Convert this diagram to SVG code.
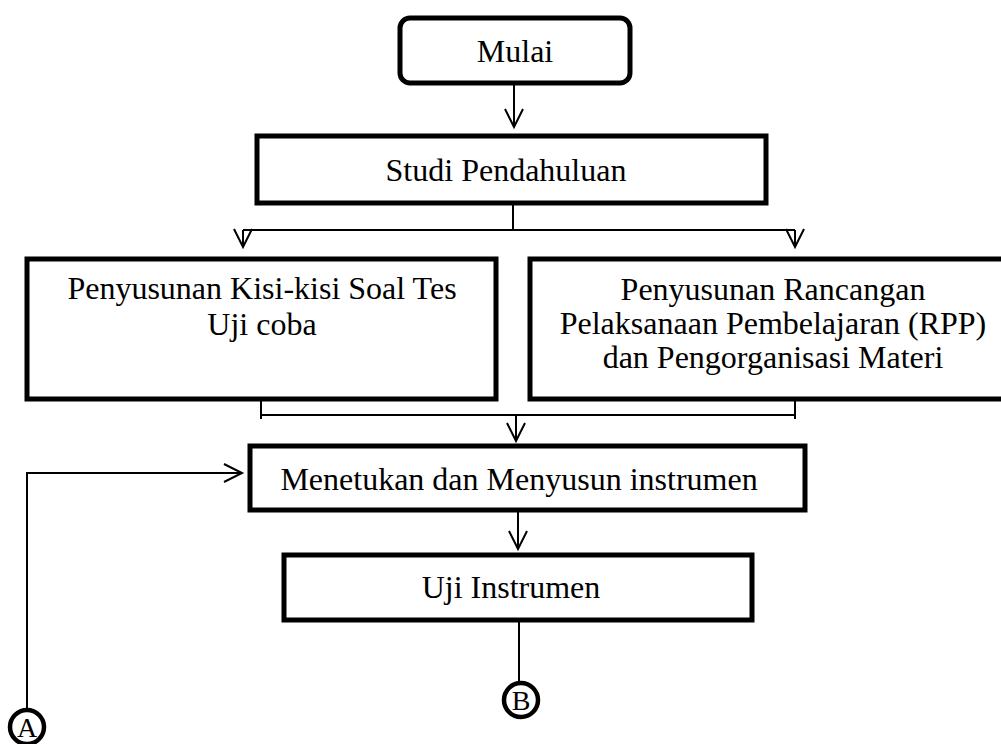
<svg xmlns="http://www.w3.org/2000/svg" width="1001" height="744" viewBox="0 0 1001 744">
<style>
.box{fill:#fff;stroke:#000;stroke-width:5}
.t{font-family:"Liberation Serif","Times New Roman",serif;font-size:32px;fill:#000;text-anchor:middle}
.c{fill:none;stroke:#000;stroke-width:2}
.circ{fill:#fff;stroke:#000;stroke-width:4.5}
.ct{font-family:"Liberation Serif","Times New Roman",serif;font-size:28px;fill:#000;text-anchor:middle}
</style>
<defs>
<marker id="ah" markerWidth="24" markerHeight="24" refX="19" refY="10" orient="auto" markerUnits="userSpaceOnUse">
<path d="M1,1 L19,10 L1,19" fill="none" stroke="#000" stroke-width="2"/>
</marker>
</defs>
<rect width="1001" height="744" fill="#fff"/>
<g id="connectors">
<path class="c" d="M514,84 V127" marker-end="url(#ah)"/>
<path class="c" d="M513,203 V230"/>
<path class="c" d="M243,230 H795"/>
<path class="c" d="M243,230 V247" marker-end="url(#ah)"/>
<path class="c" d="M795,230 V247" marker-end="url(#ah)"/>
<path class="c" d="M261,400 V419"/>
<path class="c" d="M795,392 V419"/>
<path class="c" d="M261,415 H795"/>
<path class="c" d="M516,415 V441" marker-end="url(#ah)"/>
<path class="c" d="M518,511 V549" marker-end="url(#ah)"/>
<path class="c" d="M27,710 V473 H242" marker-end="url(#ah)"/>
<path class="c" d="M519,621 V683"/>
</g>
<g id="mulai">
<rect class="box" x="400" y="18" width="230" height="65" rx="10"/>
<text class="t" x="515" y="62">Mulai</text>
</g>
<g id="studi">
<rect class="box" x="257" y="136" width="509" height="67"/>
<text class="t" x="506" y="181">Studi Pendahuluan</text>
</g>
<g id="kisi">
<rect class="box" x="27" y="259" width="469" height="140"/>
<text class="t" x="262" y="299">Penyusunan Kisi-kisi Soal Tes</text>
<text class="t" x="262" y="335">Uji coba</text>
</g>
<g id="rpp">
<rect class="box" x="530" y="259" width="490" height="140"/>
<text class="t" x="773" y="300">Penyusunan Rancangan</text>
<text class="t" x="773" y="334">Pelaksanaan Pembelajaran (RPP)</text>
<text class="t" x="773" y="368">dan Pengorganisasi Materi</text>
</g>
<g id="menetukan">
<rect class="box" x="250" y="446" width="555" height="64"/>
<text class="t" x="519" y="490">Menetukan dan Menyusun instrumen</text>
</g>
<g id="uji">
<rect class="box" x="284" y="555" width="468" height="65"/>
<text class="t" x="511" y="598">Uji Instrumen</text>
</g>
<g id="nodeA">
<circle class="circ" cx="27" cy="727" r="17"/>
<text class="ct" x="27" y="737">A</text>
</g>
<g id="nodeB">
<circle class="circ" cx="521" cy="700" r="17"/>
<text class="ct" x="521" y="710">B</text>
</g>
</svg>
